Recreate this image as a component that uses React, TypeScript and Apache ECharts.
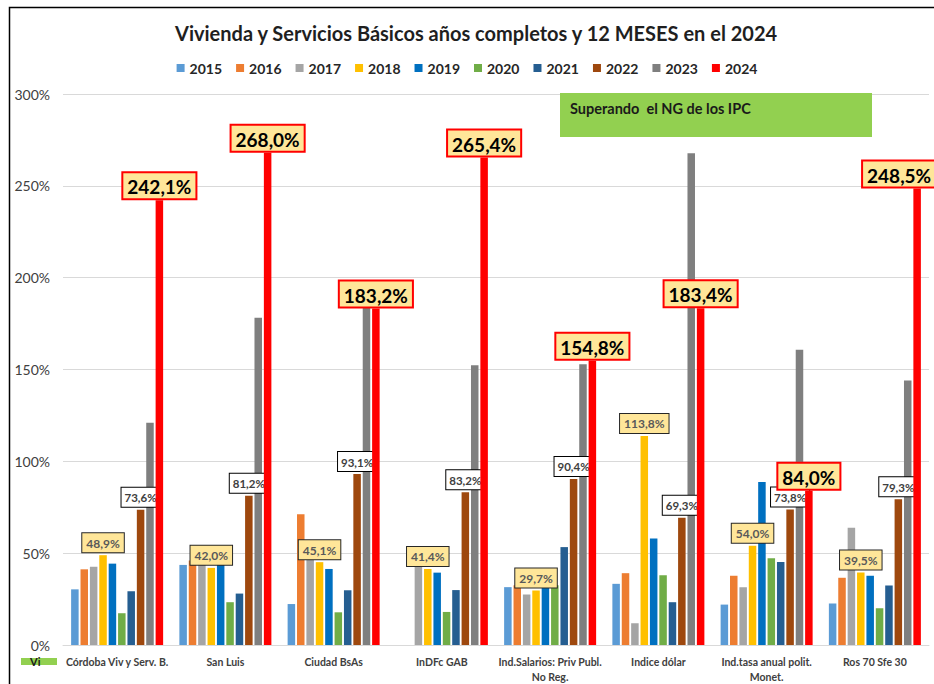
import React, { useEffect, useRef } from "react";
import * as echarts from "echarts";

const categories = [
  "Córdoba Viv y Serv. B.",
  "San Luis",
  "Ciudad BsAs",
  "InDFc GAB",
  "Ind.Salarios: Priv Publ.\nNo Reg.",
  "Indice dólar",
  "Ind.tasa anual polit.\nMonet.",
  "Ros 70 Sfe 30",
];

const years = ["2015", "2016", "2017", "2018", "2019", "2020", "2021", "2022", "2023", "2024"];
const colors = ["#5B9BD5", "#ED7D31", "#A5A5A5", "#FFC000", "#0070C0", "#70AD47", "#255E91", "#9E480E", "#7F7F7F", "#FF0000"];

const v2015 = [30.3, 43.6, 22.3, null, 31.5, 33.3, 22.0, 22.6];
const v2016 = [41.2, 46.0, 71.2, null, 32.5, 39.1, 37.7, 36.6];
const v2017 = [42.6, 45.0, 47.0, 44.0, 27.5, 11.8, 31.5, 63.9];
const v2018 = [48.9, 42.0, 45.1, 41.4, 29.7, 113.8, 54.0, 39.5];
const v2019 = [44.3, 44.6, 41.4, 39.4, 31.8, 58.0, 88.7, 37.7];
const v2020 = [17.3, 23.3, 17.8, 18.0, 32.5, 38.0, 47.3, 20.0];
const v2021 = [29.2, 28.0, 29.8, 29.9, 53.3, 23.3, 45.2, 32.4];
const v2022 = [73.6, 81.2, 93.1, 83.2, 90.4, 69.3, 73.8, 79.3];
const v2023 = [121.0, 178.2, 185.1, 152.3, 152.9, 267.7, 160.8, 144.0];
const v2024 = [242.1, 268.0, 183.2, 265.4, 154.8, 183.4, 84.0, 248.5];

const seriesValues = [v2015, v2016, v2017, v2018, v2019, v2020, v2021, v2022, v2023, v2024];

const yTicks = { min: 0, max: 300, interval: 50 };

const titleText = "Vivienda y Servicios Básicos años completos y 12 MESES en el 2024";
const noteText = "Superando  el NG de los IPC";

const FONT = "Lato, 'Open Sans', sans-serif";

const fmt = (p: any) => {
  const v = typeof p.value === "number" ? p.value : Number(p.value);
  return v.toFixed(1).replace(".", ",") + "%";
};

const labelFor = (year: string) => {
  if (year === "2018") {
    return {
      show: true,
      position: "top",
      distance: 3,
      formatter: fmt,
      color: "#595959",
      fontFamily: FONT,
      fontWeight: "bold",
      fontSize: 12,
      backgroundColor: "#FFE699",
      borderColor: "#262626",
      borderWidth: 1,
      padding: [4, 4, 3, 4],
    };
  }
  if (year === "2022") {
    return {
      show: true,
      position: "top",
      distance: 3,
      formatter: fmt,
      color: "#404040",
      fontFamily: FONT,
      fontWeight: "bold",
      fontSize: 11.5,
      backgroundColor: "#FFFFFF",
      borderColor: "#000000",
      borderWidth: 1,
      padding: [4, 3, 3, 3],
    };
  }
  if (year === "2024") {
    return {
      show: true,
      position: "top",
      distance: 2,
      formatter: fmt,
      color: "#000000",
      fontFamily: FONT,
      fontWeight: "bold",
      fontSize: 19,
      backgroundColor: "#FFE699",
      borderColor: "#FF0000",
      borderWidth: 2,
      padding: [4, 4, 2, 4],
    };
  }
  return { show: false };
};

// the last 2024 label is pushed left so it stays inside the chart, as in the reference
const dataFor = (year: string, values: (number | null)[]) =>
  values.map((v, idx) =>
    year === "2024" && idx === values.length - 1
      ? { value: v, label: { offset: [-18, 0] } }
      : v
  );

export default function App() {
  const ref = useRef<HTMLDivElement>(null);

  useEffect(() => {
    if (!ref.current) return;
    const chart = echarts.init(ref.current, null, { renderer: "svg" });
    const option: any = {
      animation: false,
      backgroundColor: "#FFFFFF",
      title: {
        text: titleText,
        left: 170,
        top: 18,
        textStyle: { fontFamily: FONT, fontSize: 20, fontWeight: "bold", color: "#1F1F1F" },
      },
      legend: {
        data: years,
        top: 56,
        left: "center",
        icon: "rect",
        itemWidth: 8,
        itemHeight: 8,
        itemGap: 14,
        textStyle: { fontFamily: FONT, fontSize: 14, fontWeight: "bold", color: "#262626" },
      },
      grid: { left: 63, right: 5, top: 94, bottom: 39, containLabel: false },
      xAxis: {
        type: "category",
        data: categories,
        axisLine: { lineStyle: { color: "#D9D9D9", width: 1 } },
        axisTick: { show: false },
        axisLabel: {
          interval: 0,
          margin: 9,
          fontFamily: FONT,
          fontSize: 10.5,
          fontWeight: "bold",
          color: "#404040",
          lineHeight: 15,
        },
      },
      yAxis: {
        type: "value",
        min: yTicks.min,
        max: yTicks.max,
        interval: yTicks.interval,
        axisLine: { show: false },
        axisTick: { show: false },
        splitLine: { lineStyle: { color: "#D9D9D9", width: 1 } },
        axisLabel: {
          formatter: "{value}%",
          margin: 13,
          fontFamily: FONT,
          fontSize: 14,
          color: "#404040",
        },
      },
      series: years.map((y, i) => ({
        name: y,
        type: "bar",
        data: dataFor(y, seriesValues[i]),
        barCategoryGap: "15%",
        barGap: "25%",
        itemStyle: { color: colors[i] },
        label: labelFor(y),
        z: y === "2024" ? 3 : 2,
      })),
      graphic: [
        {
          type: "rect",
          left: 7,
          top: 5,
          shape: { x: 0, y: 0, width: 960, height: 720 },
          style: { fill: "none", stroke: "#000000", lineWidth: 1.5 },
          silent: true,
          z: 100,
        },
        {
          type: "rect",
          left: 560,
          top: 93,
          shape: { x: 0, y: 0, width: 312, height: 44 },
          style: { fill: "#92D050" },
          z: 50,
        },
        {
          type: "text",
          left: 570,
          top: 101,
          style: {
            text: noteText,
            fontFamily: FONT,
            fontSize: 14.5,
            fontWeight: "bold",
            fill: "#1A1A1A",
          },
          z: 51,
        },
        {
          type: "rect",
          left: 21,
          top: 658,
          shape: { x: 0, y: 0, width: 36, height: 7 },
          style: { fill: "#92D050" },
          z: 50,
        },
        {
          type: "text",
          left: 30,
          top: 656,
          style: { text: "Vi", fontFamily: FONT, fontSize: 11, fontWeight: "bold", fill: "#1A1A1A" },
          z: 51,
        },
      ],
    };
    chart.setOption(option);
    return () => chart.dispose();
  }, []);

  return (
    <div
      ref={ref}
      style={{ position: "fixed", left: 0, top: 0, width: 934, height: 684 }}
    />
  );
}
